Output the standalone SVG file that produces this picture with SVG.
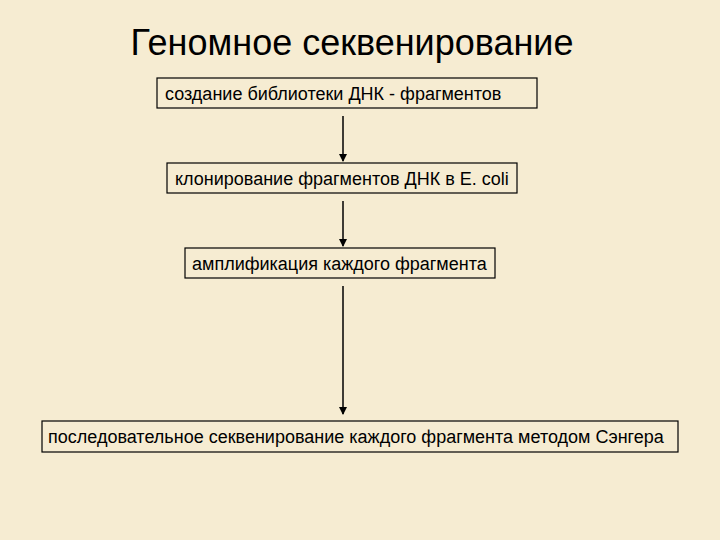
<svg xmlns="http://www.w3.org/2000/svg" width="720" height="540" viewBox="0 0 720 540">
<style>
.box{fill:none;stroke:#000;stroke-width:1.2}
.t{font-family:"Liberation Sans",Arial,sans-serif;font-size:18px;fill:#000}
.c{stroke:#000;stroke-width:1.5;marker-end:url(#a)}
</style>
<defs><marker id="a" markerWidth="8" markerHeight="8" refX="7" refY="4" orient="auto" markerUnits="userSpaceOnUse"><path d="M0,0 L8,4 L0,8 z" fill="#000"/></marker></defs>
<rect width="720" height="540" fill="#f6ecd2"/>
<text x="352" y="55" font-family="Liberation Sans,Arial,sans-serif" font-size="36" text-anchor="middle">Геномное секвенирование</text>
<g id="n1"><rect class="box" x="157" y="78" width="380" height="30"/><text class="t" x="165" y="100">создание библиотеки ДНК - фрагментов</text></g>
<g id="n2"><rect class="box" x="167" y="163" width="350" height="30"/><text class="t" x="175" y="185">клонирование фрагментов ДНК в E. coli</text></g>
<g id="n3"><rect class="box" x="185" y="248" width="310" height="30"/><text class="t" x="192" y="270">амплификация каждого фрагмента</text></g>
<g id="n4"><rect class="box" x="42" y="421" width="636" height="31"/><text class="t" x="48" y="443">последовательное секвенирование каждого фрагмента методом Сэнгера</text></g>
<g id="connectors">
<line class="c" x1="343" y1="116" x2="343" y2="161"/>
<line class="c" x1="343" y1="201" x2="343" y2="246"/>
<line class="c" x1="343" y1="286" x2="343" y2="414"/>
</g>
</svg>
